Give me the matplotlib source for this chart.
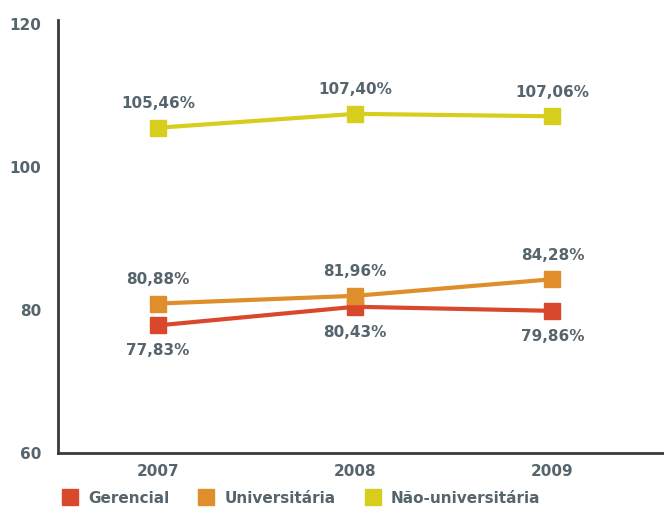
import numpy as np
import matplotlib.pyplot as plt
from matplotlib.lines import Line2D

years = ['2007', '2008', '2009']
series = ['Gerencial', 'Universitária', 'Não-universitária']
gerencial = [77.83, 80.43, 79.86]
universitaria = [80.88, 81.96, 84.28]
nao_universitaria = [105.46, 107.40, 107.06]
colors = ['#d9482a', '#e08e2b', '#d6cd1c']
txt = '#56656d'

plt.rcParams['font.family'] = ['DejaVu Sans']
plt.rcParams['font.weight'] = 'bold'

fig = plt.figure(figsize=(6.64, 5.17), dpi=100)
ax = fig.add_axes([0.0873, 0.124, 0.913, 0.837])

x = np.arange(len(years))
values = [gerencial, universitaria, nao_universitaria]
for vals, c in zip(values, colors):
    ax.plot(x, vals, color=c, lw=3, marker='s', ms=12, solid_capstyle='butt')

def fmt(v):
    return f'{v:.2f}%'.replace('.', ',')

for i, v in enumerate(gerencial):
    ax.annotate(fmt(v), (x[i], v), xytext=(0, -13), textcoords='offset points',
                ha='center', va='top', color=txt, fontsize=11, fontweight='bold')
for i, v in enumerate(universitaria):
    ax.annotate(fmt(v), (x[i], v), xytext=(0, 12), textcoords='offset points',
                ha='center', va='bottom', color=txt, fontsize=11, fontweight='bold')
for i, v in enumerate(nao_universitaria):
    ax.annotate(fmt(v), (x[i], v), xytext=(0, 12), textcoords='offset points',
                ha='center', va='bottom', color=txt, fontsize=11, fontweight='bold')

ax.set_xlim(-0.508, 2.567)
ax.set_ylim(60, 120.5)
ax.set_yticks([60, 80, 100, 120])
ax.set_xticks(x)
ax.set_xticklabels(years)
ax.tick_params(length=0, colors=txt, labelsize=11)
ax.tick_params(axis='x', pad=8)
ax.tick_params(axis='y', pad=12)
for lab in ax.get_xticklabels() + ax.get_yticklabels():
    lab.set_fontweight('bold')
ax.spines['top'].set_visible(False)
ax.spines['right'].set_visible(False)
for s in ['left', 'bottom']:
    ax.spines[s].set_color('#3a3a3a')
    ax.spines[s].set_linewidth(2)

handles = [Line2D([], [], ls='none', marker='s', ms=12, color=c) for c in colors]
leg = fig.legend(handles, series, loc='lower left', bbox_to_anchor=(0.062, -0.005),
                 ncol=3, frameon=False, handletextpad=0.2, columnspacing=1.4,
                 prop={'size': 11, 'weight': 'bold'})
for t in leg.get_texts():
    t.set_color(txt)

fig.savefig('out.png', dpi=100)
